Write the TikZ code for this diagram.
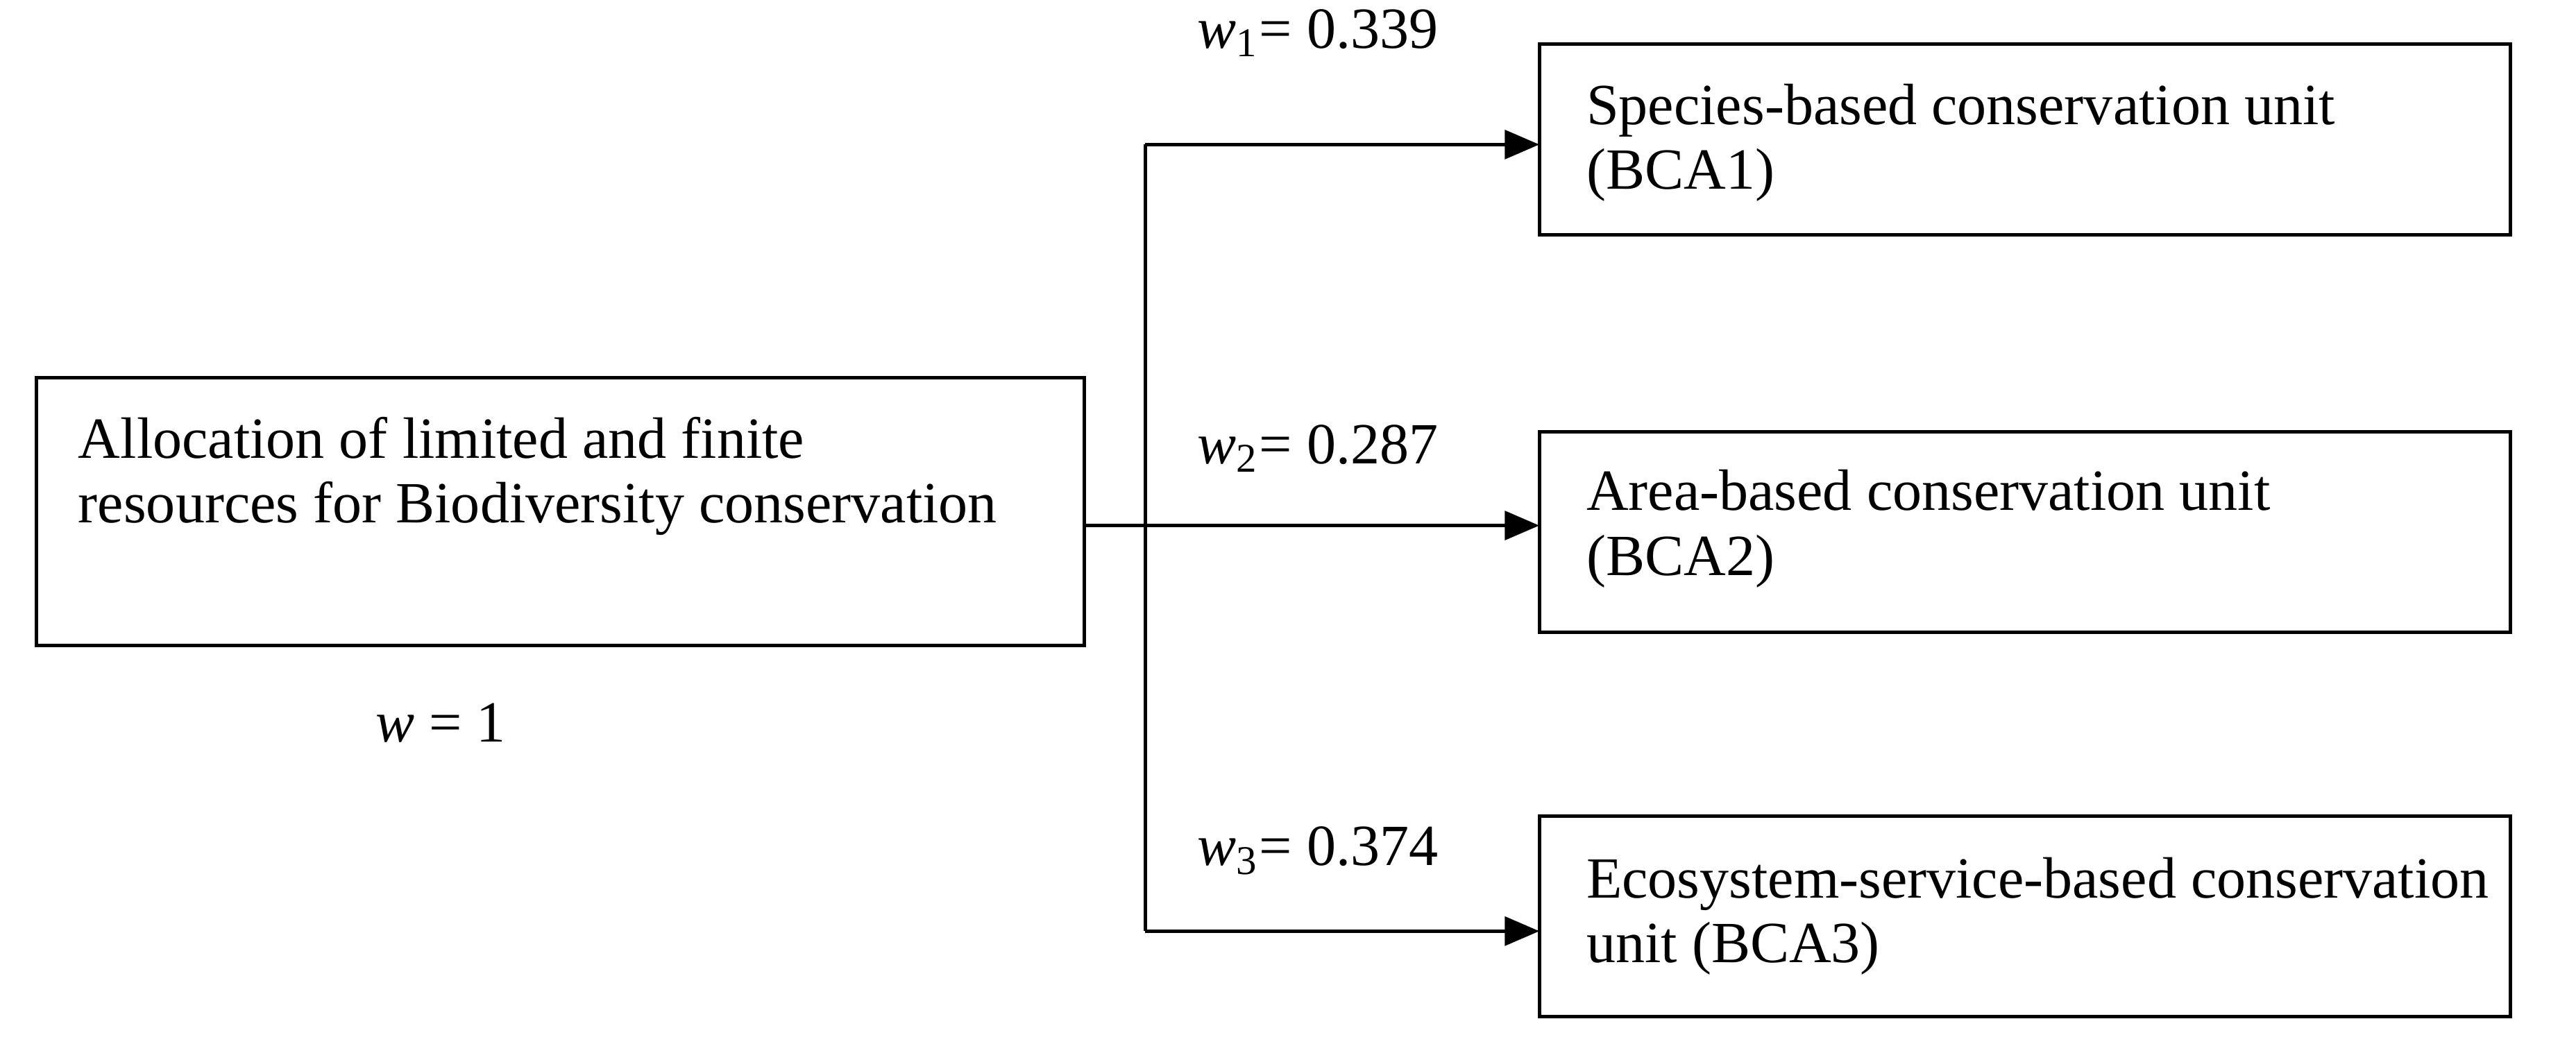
\documentclass[tikz,border=0pt]{standalone}
\usepackage{fontspec}
\setmainfont{Liberation Serif}
\usetikzlibrary{arrows.meta}
\begin{document}
\begin{tikzpicture}[x=0.01cm,y=-0.01cm,
  txt/.style={anchor=west,align=left,font=\fontsize{10.1}{11.2}\selectfont,inner sep=0pt},
  lab/.style={anchor=west,font=\fontsize{10.1}{12}\selectfont,inner sep=0pt},
  arr/.style={line width=0.6pt,-{Triangle[length=6pt,width=5pt]}}]
\useasboundingbox (0,0) rectangle (1568,641);
\draw[line width=0.6pt] (22,230) rectangle (660,393);
\coordinate (L) at (660,320);
\node[txt] (lt) at (47,290) {Allocation of limited and finite\\resources for Biodiversity conservation};
\node[lab] (w) at (228,440) {\textit{w} = 1};
\draw[line width=0.6pt] (937,27) rectangle (1528,143);
\draw[line width=0.6pt] (937,263) rectangle (1528,385);
\draw[line width=0.6pt] (937,497) rectangle (1528,619);
\coordinate (B1) at (937,88);
\coordinate (B2) at (937,320);
\coordinate (B3) at (937,567);
\node[txt] (t1) at (965,87) {Species-based conservation unit\\(BCA1)};
\node[txt] (t2) at (965,322) {Area-based conservation unit\\(BCA2)};
\node[txt] (t3) at (965,558) {Ecosystem-service-based conservation\\unit (BCA3)};
\coordinate (J) at (697,320);
\coordinate (J1) at (697,88);
\coordinate (J3) at (697,567);
\draw[line width=0.6pt] (L) -- (J);
\draw[line width=0.6pt] (J1) -- (J3);
\draw[arr] (J1) -- (B1);
\draw[arr] (J) -- (B2);
\draw[arr] (J3) -- (B3);
\node[lab] (w1) at (728,20) {\textit{w}\textsubscript{1}= 0.339};
\node[lab] (w2) at (728,273) {\textit{w}\textsubscript{2}= 0.287};
\node[lab] (w3) at (728,518) {\textit{w}\textsubscript{3}= 0.374};
\end{tikzpicture}
\end{document}
